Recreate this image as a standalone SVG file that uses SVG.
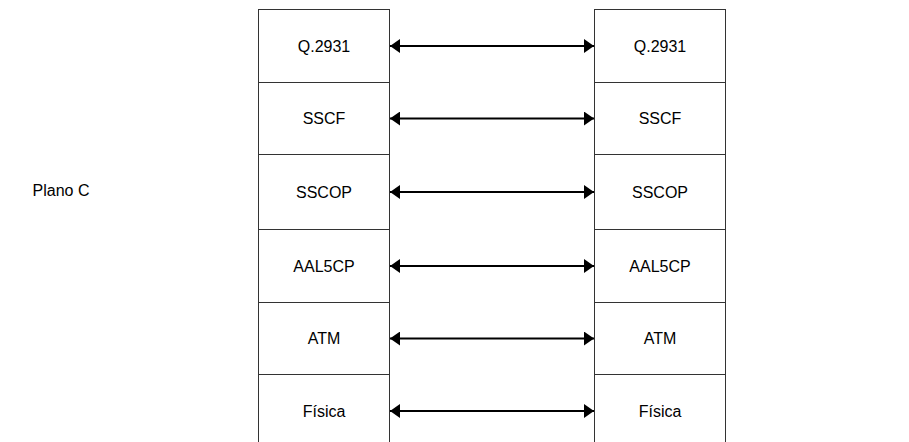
<svg xmlns="http://www.w3.org/2000/svg" width="909" height="442" viewBox="0 0 909 442">
<defs>
<style>
.box{fill:#fff;stroke:#333;stroke-width:1}
.t{font-family:"Liberation Sans",Arial,sans-serif;font-size:16px;fill:#000;text-anchor:middle;dominant-baseline:central}
.c{stroke:#000;stroke-width:2;fill:none;marker-start:url(#a);marker-end:url(#a)}
</style>
<marker id="a" viewBox="0 0 10 14" refX="10" refY="7" markerWidth="10" markerHeight="14" markerUnits="userSpaceOnUse" orient="auto-start-reverse">
<path d="M0,0 L10,7 L0,14 Z" fill="#000"/>
</marker>
</defs>
<rect width="909" height="442" fill="#fff"/>
<text class="t" x="61" y="190" style="text-anchor:middle">Plano C</text>
<g id="left">
<rect class="box" x="258.5" y="9.5" width="131" height="73"/>
<rect class="box" x="258.5" y="82.5" width="131" height="72"/>
<rect class="box" x="258.5" y="154.5" width="131" height="75"/>
<rect class="box" x="258.5" y="229.5" width="131" height="73"/>
<rect class="box" x="258.5" y="302.5" width="131" height="72"/>
<rect class="box" x="258.5" y="374.5" width="131" height="80"/>
<text class="t" x="324" y="46">Q.2931</text>
<text class="t" x="324" y="118.5">SSCF</text>
<text class="t" x="324" y="192">SSCOP</text>
<text class="t" x="324" y="266">AAL5CP</text>
<text class="t" x="324" y="338.5">ATM</text>
<text class="t" x="324" y="411">Física</text>
</g>
<g id="right">
<rect class="box" x="594.5" y="9.5" width="131" height="73"/>
<rect class="box" x="594.5" y="82.5" width="131" height="72"/>
<rect class="box" x="594.5" y="154.5" width="131" height="75"/>
<rect class="box" x="594.5" y="229.5" width="131" height="73"/>
<rect class="box" x="594.5" y="302.5" width="131" height="72"/>
<rect class="box" x="594.5" y="374.5" width="131" height="80"/>
<text class="t" x="660" y="46">Q.2931</text>
<text class="t" x="660" y="118.5">SSCF</text>
<text class="t" x="660" y="192">SSCOP</text>
<text class="t" x="660" y="266">AAL5CP</text>
<text class="t" x="660" y="338.5">ATM</text>
<text class="t" x="660" y="411">Física</text>
</g>
<g id="connectors">
<line class="c" x1="390" y1="46" x2="594" y2="46"/>
<line class="c" x1="390" y1="118.5" x2="594" y2="118.5"/>
<line class="c" x1="390" y1="192" x2="594" y2="192"/>
<line class="c" x1="390" y1="266" x2="594" y2="266"/>
<line class="c" x1="390" y1="338.5" x2="594" y2="338.5"/>
<line class="c" x1="390" y1="411" x2="594" y2="411"/>
</g>
</svg>
